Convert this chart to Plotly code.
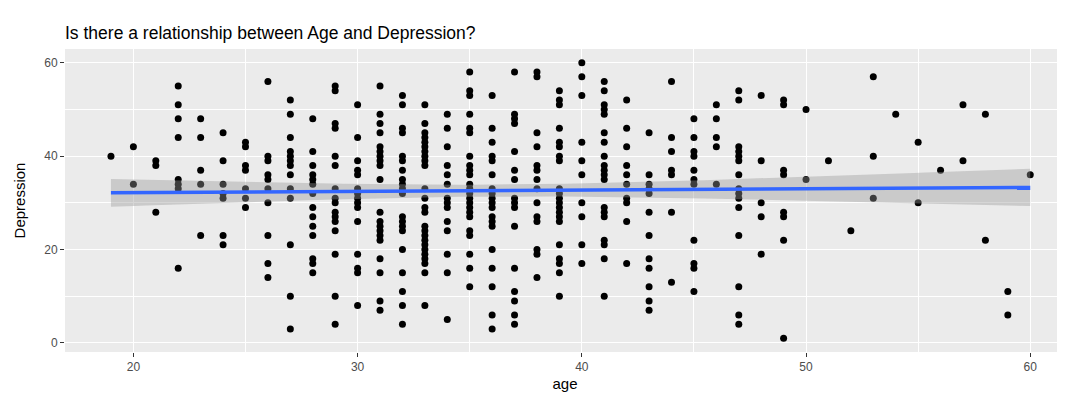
import numpy as np
import plotly.graph_objects as go

# ages on the x axis, and the depression scores read for each age
ages = [19, 20, 21, 22, 23, 24, 25, 26, 27, 28, 29, 30, 31, 32, 33, 34, 35, 36, 37, 38,
        39, 40, 41, 42, 43, 44, 45, 46, 47, 48, 49, 50, 51, 52, 53, 54, 55, 56, 57, 58, 59, 60]

depression_by_age = [
    [40],
    [42, 34],
    [39, 38, 28],
    [55, 51, 48, 44, 35, 34, 33, 16],
    [48, 44, 37, 34, 23],
    [45, 39, 34, 32, 31, 23, 21],
    [43, 42, 38, 37, 33, 31, 29],
    [56, 40, 39, 36, 35, 33, 30, 23, 17, 14],
    [52, 49, 44, 41, 40, 39, 38, 36, 33, 31, 21, 10, 3],
    [48, 41, 38, 36, 35, 34, 32, 29, 27, 25, 23, 18, 17, 15],
    [55, 54, 47, 46, 40, 38, 33, 31, 30, 28, 27, 26, 24, 19, 10, 4],
    [51, 44, 39, 37, 36, 33, 32, 31, 30, 29, 26, 19, 16, 15, 8],
    [55, 49, 47, 45, 42, 41, 40, 39, 38, 35, 28, 26, 25, 24, 23, 22, 18, 15, 9, 7],
    [53, 51, 46, 45, 40, 39, 37, 35, 34, 33, 32, 27, 26, 25, 24, 20, 15, 11, 8, 4],
    [51, 47, 45, 44, 43, 42, 41, 40, 39, 38, 33, 31, 29, 28, 25, 24, 23, 22, 21, 20, 19, 18, 17, 15, 8],
    [49, 46, 42, 38, 36, 34, 31, 30, 29, 26, 24, 19, 15, 5],
    [58, 54, 53, 49, 46, 45, 40, 38, 37, 36, 34, 33, 32, 31, 30, 29, 28, 27, 24, 23, 19, 16, 12],
    [53, 46, 43, 40, 39, 36, 33, 32, 31, 30, 29, 27, 26, 25, 20, 16, 12, 6, 3],
    [58, 49, 48, 47, 41, 37, 35, 31, 30, 29, 25, 16, 11, 9, 6, 4],
    [58, 57, 45, 42, 38, 37, 35, 33, 30, 27, 26, 20, 19, 14],
    [54, 52, 51, 46, 43, 42, 40, 39, 33, 32, 31, 30, 29, 28, 27, 26, 21, 18, 17, 15, 10],
    [60, 57, 53, 43, 39, 36, 30, 27, 21, 17],
    [56, 54, 51, 50, 49, 45, 43, 40, 38, 37, 36, 35, 29, 28, 27, 22, 21, 18, 10],
    [52, 46, 42, 38, 36, 34, 31, 30, 26, 17],
    [45, 36, 34, 33, 32, 28, 23, 18, 16, 12, 9, 7],
    [56, 44, 41, 37, 36, 28, 13],
    [48, 44, 41, 40, 37, 35, 34, 22, 17, 16, 11],
    [51, 48, 44, 42, 34],
    [54, 52, 42, 41, 40, 39, 36, 33, 32, 31, 29, 23, 12, 6, 4],
    [53, 39, 30, 27, 19],
    [52, 51, 37, 36, 28, 27, 22, 1],
    [50, 35],
    [39],
    [24],
    [57, 40, 31],
    [49],
    [43, 30],
    [37],
    [51, 39],
    [49, 22],
    [11, 6],
    [36],
]

x_ticks = [20, 30, 40, 50, 60]
y_ticks = [0, 20, 40, 60]

age = np.array([a for a, vals in zip(ages, depression_by_age) for _ in vals], dtype=float)
dep = np.array([v for vals in depression_by_age for v in vals], dtype=float)

# linear fit + 95% confidence band (like geom_smooth(method = "lm"))
n = len(age)
slope, intercept = np.polyfit(age, dep, 1)
resid = dep - (intercept + slope * age)
s = np.sqrt(np.sum(resid ** 2) / (n - 2))
x_fit = np.linspace(age.min(), age.max(), 80)
y_fit = intercept + slope * x_fit
se = s * np.sqrt(1 / n + (x_fit - age.mean()) ** 2 / np.sum((age - age.mean()) ** 2))
t_crit = 1.965
upper = y_fit + t_crit * se
lower = y_fit - t_crit * se

fig = go.Figure()

fig.add_trace(go.Scatter(
    x=age, y=dep, mode='markers',
    marker=dict(size=7, color='black'),
    showlegend=False
))

fig.add_trace(go.Scatter(
    x=np.concatenate([x_fit, x_fit[::-1]]),
    y=np.concatenate([upper, lower[::-1]]),
    fill='toself', fillcolor='rgba(153,153,153,0.4)',
    line=dict(width=0), mode='lines',
    hoverinfo='skip', showlegend=False
))

fig.add_trace(go.Scatter(
    x=x_fit, y=y_fit, mode='lines',
    line=dict(color='#3366FF', width=3.5),
    showlegend=False
))

axis_common = dict(
    showgrid=True, gridcolor='white', gridwidth=1.4,
    zeroline=False, showline=False, automargin=False,
    ticks='outside', ticklen=4, tickcolor='#333333', tickwidth=1,
    tickfont=dict(family='Liberation Sans, Arial', size=12, color='#4D4D4D'),
)

# page has an 8px body margin, so the figure is sized/offset to compensate
fig.update_layout(
    width=1057, height=394,
    margin=dict(l=57, r=0, t=41, b=50),
    paper_bgcolor='white', plot_bgcolor='#EBEBEB',
    font=dict(family='Liberation Sans, Arial', color='black'),
    title=dict(
        text='Is there a relationship between Age and Depression?',
        x=0, xref='paper', xanchor='left',
        y=1 - 25 / 394, yref='container', yanchor='middle',
        font=dict(size=17.5, color='black'), automargin=False
    ),
    xaxis=dict(
        range=[16.95, 61.55], tickvals=x_ticks,
        title=dict(text='age', font=dict(size=15), standoff=5),
        minor=dict(dtick=5, tick0=15, gridcolor='white', gridwidth=0.7, showgrid=True),
        **axis_common
    ),
    yaxis=dict(
        range=[-1.95, 62.95], tickvals=y_ticks,
        title=dict(text='Depression', font=dict(size=15), standoff=14),
        minor=dict(dtick=10, tick0=10, gridcolor='white', gridwidth=0.7, showgrid=True),
        **axis_common
    ),
)

fig.write_html("out.html")
